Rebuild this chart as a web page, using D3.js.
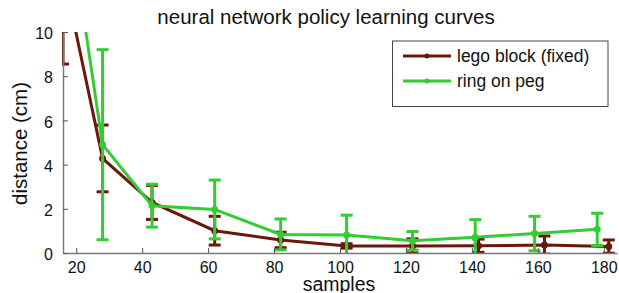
<!DOCTYPE html>
<html>
<head>
<meta charset="utf-8">
<script src="https://cdn.jsdelivr.net/npm/d3@7"></script>
<style>
  body { margin: 0; background: #fff; }
  text { font-family: "Liberation Sans", Arial, sans-serif; }
</style>
</head>
<body>
<script>
// data
var legoX   = [16, 28, 43, 62, 82, 102, 122, 142, 162, 181.5];
var legoY   = [12.75, 4.28, 2.29, 1.01, 0.59, 0.32, 0.32, 0.33, 0.36, 0.29];
var legoErr = [4.2, 1.51, 0.77, 0.65, 0.35, 0.1, 0.32, 0.3, 0.41, 0.3];

var ringX   = [16, 28, 43, 62, 82, 102, 122, 141, 159, 178];
var ringY   = [17.0, 4.9, 2.14, 1.97, 0.84, 0.81, 0.55, 0.71, 0.88, 1.07];
var ringErr = [5, 4.3, 0.97, 1.33, 0.7, 0.9, 0.42, 0.8, 0.78, 0.73];

var xTicks = [20, 40, 60, 80, 100, 120, 140, 160, 180];
var yTicks = [0, 2, 4, 6, 8, 10];

var series = [
  {name: "lego block (fixed)", color: "#6b180c", x: legoX, y: legoY, e: legoErr},
  {name: "ring on peg", color: "#33cc33", x: ringX, y: ringY, e: ringErr}
];

var W = 619, H = 293;
var svg = d3.select("body").append("svg")
  .attr("width", W).attr("height", H);

var x = d3.scaleLinear().domain([16, 184]).range([63, 617]);
var y = d3.scaleLinear().domain([0, 10]).range([253, 32]);

// clip to the plot area
svg.append("clipPath").attr("id", "clip")
  .append("rect")
  .attr("x", 62).attr("y", 32)
  .attr("width", 617 - 62).attr("height", 253 - 32);

var plot = svg.append("g").attr("clip-path", "url(#clip)");

series.forEach(function(s) {
  var pts = s.x.map(function(v, i) { return {x: v, y: s.y[i], e: s.e[i]}; });
  var g = plot.append("g");

  var line = d3.line()
    .x(function(d) { return x(d.x); })
    .y(function(d) { return y(d.y); });

  g.append("path")
    .datum(pts)
    .attr("d", line)
    .attr("fill", "none")
    .attr("stroke", s.color)
    .attr("stroke-width", 3);

  // error bars
  var eb = g.selectAll(".eb").data(pts).enter().append("g");
  eb.append("line")
    .attr("x1", function(d) { return x(d.x); })
    .attr("x2", function(d) { return x(d.x); })
    .attr("y1", function(d) { return y(d.y - d.e); })
    .attr("y2", function(d) { return y(d.y + d.e); })
    .attr("stroke", s.color).attr("stroke-width", 3);
  [-1, 1].forEach(function(sign) {
    eb.append("line")
      .attr("x1", function(d) { return x(d.x) - 6; })
      .attr("x2", function(d) { return x(d.x) + 6; })
      .attr("y1", function(d) { return y(d.y + sign * d.e); })
      .attr("y2", function(d) { return y(d.y + sign * d.e); })
      .attr("stroke", s.color).attr("stroke-width", 3);
  });

  g.selectAll("circle").data(pts).enter().append("circle")
    .attr("cx", function(d) { return x(d.x); })
    .attr("cy", function(d) { return y(d.y); })
    .attr("r", 3.5)
    .attr("fill", s.color);
});

// axes with inward ticks
var xAxis = svg.append("g")
  .attr("transform", "translate(0,253)")
  .call(d3.axisBottom(x).tickValues(xTicks).tickSizeInner(-5).tickSizeOuter(0).tickPadding(9));
var yAxis = svg.append("g")
  .attr("transform", "translate(63,0)")
  .call(d3.axisLeft(y).tickValues(yTicks).tickSizeInner(-5).tickSizeOuter(0).tickPadding(10));

[xAxis, yAxis].forEach(function(a) {
  a.select(".domain").attr("stroke", "#7a7a7a").attr("stroke-width", 1.5);
  a.selectAll(".tick line").attr("stroke", "#555");
  a.selectAll(".tick text").attr("fill", "#111").style("font-size", "16px");
});
yAxis.selectAll(".tick text").attr("dy", "0.42em");

// title and axis labels
svg.append("text")
  .attr("x", 326).attr("y", 23.5)
  .attr("text-anchor", "middle")
  .style("font-size", "20.5px")
  .attr("fill", "#111")
  .text("neural network policy learning curves");

svg.append("text")
  .attr("x", 339).attr("y", 290.5)
  .attr("text-anchor", "middle")
  .style("font-size", "19.5px")
  .attr("fill", "#111")
  .text("samples");

svg.append("text")
  .attr("transform", "translate(27,143.5) rotate(-90)")
  .attr("text-anchor", "middle")
  .style("font-size", "20.5px")
  .attr("fill", "#111")
  .text("distance (cm)");

// legend
var legend = svg.append("g");
legend.append("rect")
  .attr("x", 392.5).attr("y", 41)
  .attr("width", 215.5).attr("height", 65.5)
  .attr("fill", "#fff").attr("stroke", "#444").attr("stroke-width", 1);

series.forEach(function(s, i) {
  var ly = 56 + i * 25;
  legend.append("line")
    .attr("x1", 403).attr("x2", 451)
    .attr("y1", ly).attr("y2", ly)
    .attr("stroke", s.color).attr("stroke-width", 3);
  legend.append("circle")
    .attr("cx", 427).attr("cy", ly).attr("r", 2.5)
    .attr("fill", s.color);
  legend.append("text")
    .attr("x", 457).attr("y", ly)
    .attr("dy", "0.35em")
    .style("font-size", "17.5px")
    .attr("fill", "#111")
    .text(s.name);
});
</script>
</body>
</html>
